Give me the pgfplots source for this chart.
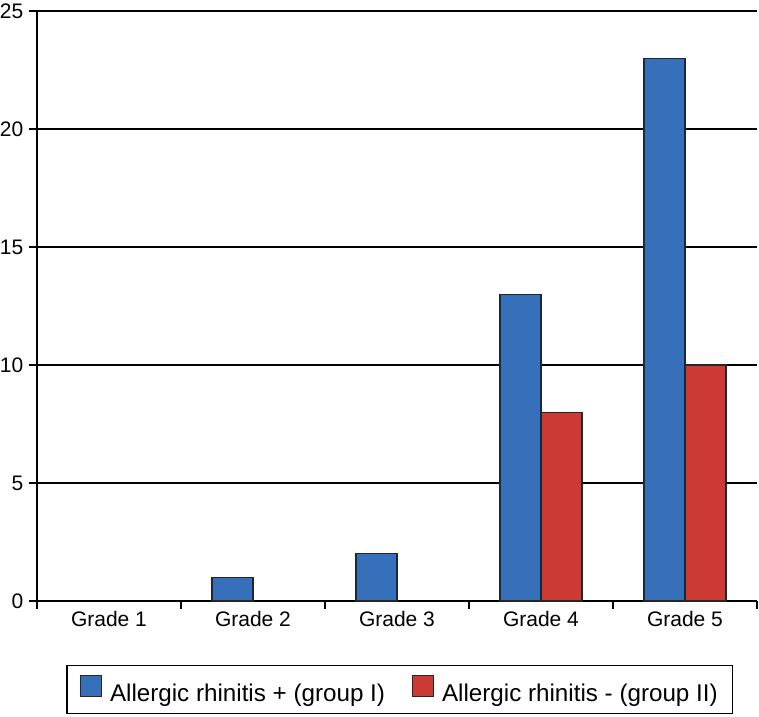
\documentclass[border=0pt]{standalone}
\usepackage{fontspec}
\setmainfont{Liberation Sans}
\usepackage{pgfplots}
\pgfplotsset{compat=1.18}
\definecolor{gblue}{RGB}{54,112,186}
\definecolor{gred}{RGB}{204,58,51}
\begin{document}
\begin{tikzpicture}
\useasboundingbox (-37bp,-116bp) rectangle (722bp,601bp);
\begin{axis}[
  at={(0,0)}, anchor=south west,
  scale only axis, width=720bp, height=590bp,
  xmin=-0.5, xmax=4.5, ymin=0, ymax=25,
  axis x line*=bottom, axis y line*=left,
  axis line style={line width=1.6bp, black},
  ytick={0,5,...,25},
  ymajorgrids, grid style={line width=1.5bp, black},
  xtick={-0.5,0.5,...,4.5}, xticklabels={},
  extra x ticks={0,1,2,3,4},
  extra x tick labels={Grade 1,Grade 2,Grade 3,Grade 4,Grade 5},
  extra x tick style={major tick length=0pt},
  tick align=outside, major tick length=7.5bp,
  tick style={line width=1.6bp, black},
  /pgf/number format/assume math mode=true,
  tick label style={font=\fontsize{21bp}{25bp}\selectfont},
  yticklabel style={inner xsep=0pt, inner ysep=0pt, xshift=-6bp},
  xticklabel style={yshift=-7bp},
  ybar, bar width=41bp,
  legend columns=2,
  legend image code/.code={\draw[#1, line width=1bp] (0bp,-3bp) rectangle (21bp,18bp);},
  legend style={at={(0.504,-0.1085)}, anchor=north, draw=black, line width=1.2bp,
    font=\fontsize{24.2bp}{29bp}\selectfont, inner xsep=13bp, inner ysep=9bp,
    /tikz/every odd column/.append style={column sep=6bp},
    /tikz/every even column/.append style={column sep=25bp}},
]
\addplot[ybar, fill=gblue, draw=black!85, line width=1.2bp, bar shift=-20.5bp]
  coordinates {(1,1) (2,2) (3,13) (4,23)};
\addplot[ybar, fill=gred, draw=black!85, line width=1.2bp, bar shift=20.5bp]
  coordinates {(3,8) (4,10)};
\legend{Allergic rhinitis + (group I), Allergic rhinitis - (group II)}
\end{axis}
\end{tikzpicture}
\end{document}
